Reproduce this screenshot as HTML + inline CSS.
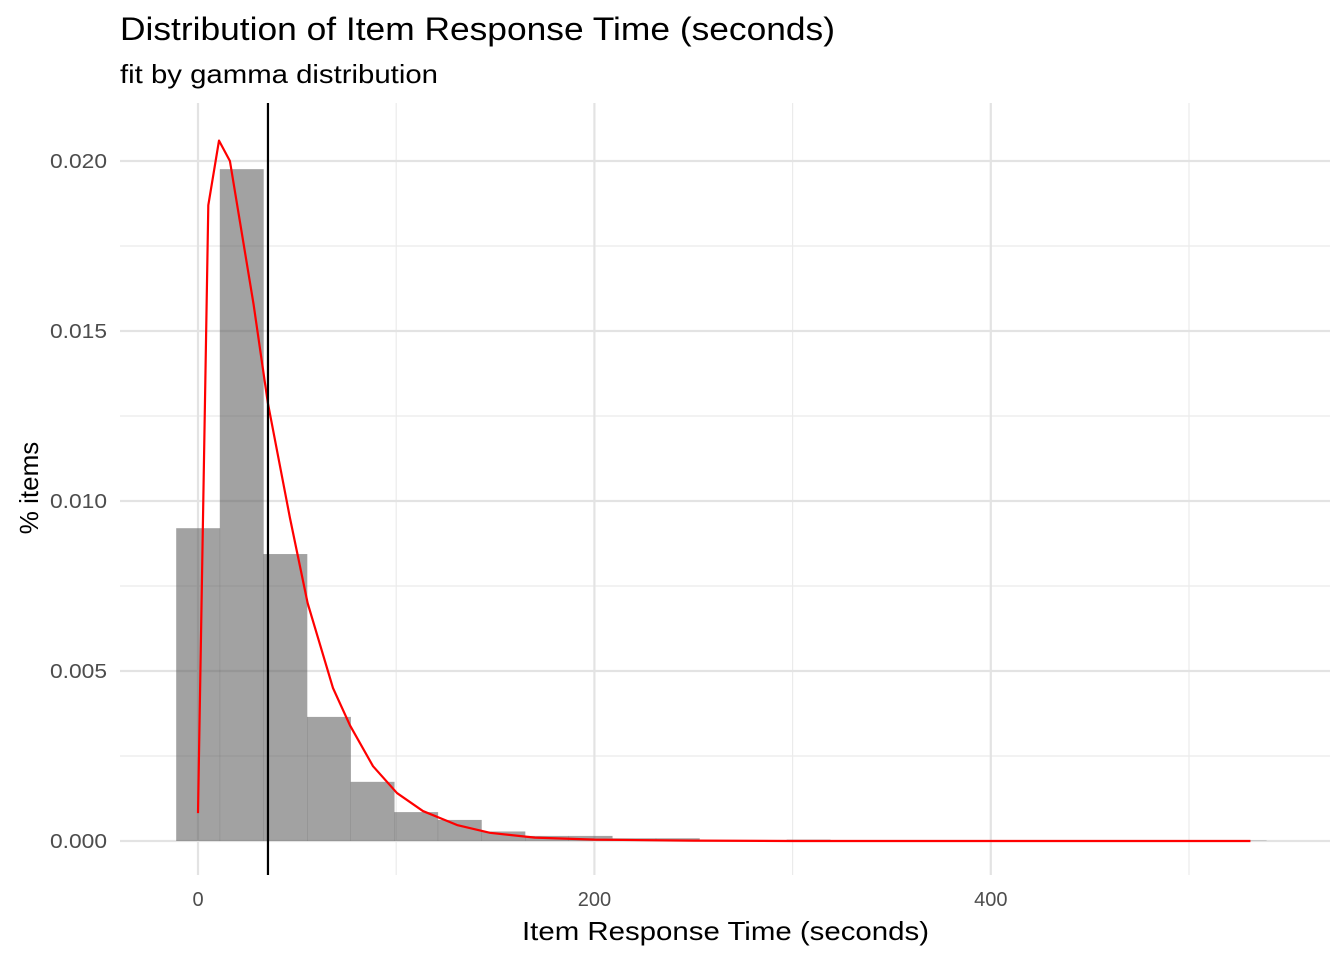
<!DOCTYPE html>
<html><head><meta charset="utf-8"><style>
body{margin:0;background:#fff;font-family:"Liberation Sans",sans-serif}
</style></head><body>
<svg id="chart" width="1344" height="960" xmlns="http://www.w3.org/2000/svg" font-family="Liberation Sans, sans-serif">
<text x="120" y="40" font-size="32" fill="#000" textLength="715" lengthAdjust="spacingAndGlyphs">Distribution of Item Response Time (seconds)</text>
<text x="120" y="83" font-size="26" fill="#000" textLength="318" lengthAdjust="spacingAndGlyphs">fit by gamma distribution</text>
<text x="522" y="940" font-size="26" textLength="407" lengthAdjust="spacingAndGlyphs">Item Response Time (seconds)</text>
<text transform="translate(38,488) rotate(-90)" font-size="26" text-anchor="middle">% items</text>
<g id="grid"></g><g id="bars"></g><g id="marks"></g><g id="ticks"></g>
</svg>
<script>
const binCenters=[0,22,44,66,88,110,132,154,176,198,220,242,264,286,308,330,352,374,396,418,440,462,484,506,528];
const binValues=[0.0092,0.01976,0.00844,0.00365,0.00174,0.00085,0.00062,0.00028,0.00015,0.00015,0.00008,0.00008,0.00002,0.00002,0.00004,0.00002,0.00001,0.00001,0.00001,0.00001,0.00001,0.00001,0.00001,0.00001,0.00001];
const curveX=[0,5.2,10.6,16.1,21.2,28,35.2,46.4,55.3,68.1,76.7,88.3,100.4,113.5,130.7,147.3,170,200,250,300,531];
const curveY=[0.00082,0.0187,0.0206,0.0200,0.0182,0.0158,0.0129,0.0095,0.0070,0.0045,0.0034,0.0022,0.00141,0.00088,0.00047,0.00024,0.0001,0.00004,0.00001,0,0];
const vlineX=35.3;
const xTicks=[0,200,400];
const xMinor=[100,300,500];
const yTicks=[0,0.005,0.01,0.015,0.02];
const yTickLabels=["0.000","0.005","0.010","0.015","0.020"];
const yMinor=[0.0025,0.0075,0.0125,0.0175];
const binWidth=22;
const X=v=>198+v*1.982, Y=v=>841-v*34000;
const NS="http://www.w3.org/2000/svg";
function mk(p,t,a){const e=document.createElementNS(NS,t);for(const k in a)e.setAttribute(k,a[k]);document.getElementById(p).appendChild(e);return e;}
yMinor.forEach(v=>{const l=mk('grid','line',{x1:120,x2:1330,y1:Y(v),y2:Y(v),stroke:'#ebebeb','stroke-width':1.2});

});
xMinor.forEach(v=>{const l=mk('grid','line',{x1:X(v),x2:X(v),y1:103,y2:875,stroke:'#ebebeb','stroke-width':1.2});

});
yTicks.forEach((v,i)=>{const l=mk('grid','line',{x1:120,x2:1330,y1:Y(v),y2:Y(v),stroke:'#e3e3e3','stroke-width':2.2});


const t=mk('ticks','text',{x:50,y:Y(v)+7,'font-size':20,fill:'#4d4d4d',textLength:57,lengthAdjust:'spacingAndGlyphs'});t.textContent=yTickLabels[i];

});
xTicks.forEach(v=>{const l=mk('grid','line',{x1:X(v),x2:X(v),y1:103,y2:875,stroke:'#e3e3e3','stroke-width':2.2});


const t=mk('ticks','text',{x:X(v),y:906,'font-size':20,fill:'#4d4d4d','text-anchor':'middle'});t.textContent=v;

});
binCenters.forEach((c,i)=>{const x0=X(c-binWidth/2),x1=X(c+binWidth/2);
const r=mk('bars','rect',{x:x0,y:Y(binValues[i]),width:x1-x0+0.3,height:Y(0)-Y(binValues[i]),fill:'#5a5a5a','fill-opacity':0.56});

});
const p=mk('marks','polyline',{points:curveX.map((x,i)=>X(x)+','+Y(curveY[i])).join(' '),fill:'none',stroke:'#ff0000','stroke-width':2.2,'stroke-linejoin':'round'});


const vl=mk('marks','line',{x1:X(vlineX),x2:X(vlineX),y1:103,y2:875,stroke:'#000','stroke-width':2.2});


</script>
</body></html>
